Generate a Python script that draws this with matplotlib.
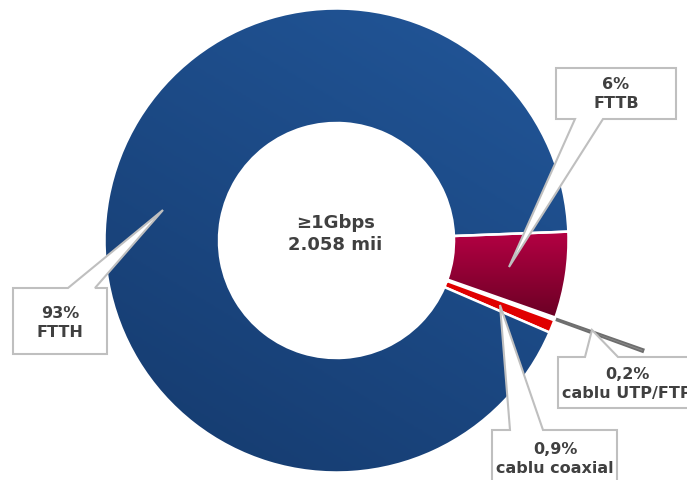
import matplotlib
matplotlib.use("Agg")
import matplotlib.pyplot as plt
import numpy as np
from matplotlib.patches import Polygon
from matplotlib.colors import LinearSegmentedColormap

# ---- data ----
categories = ["FTTB", "cablu UTP/FTP", "cablu coaxial", "FTTH"]
shares = [6.0, 0.2, 0.9, 92.9]
pct_labels = ["6%", "0,2%", "0,9%", "93%"]
center_title = "≥1Gbps"
center_value = "2.058 mii"

W, H = 687, 480
fig = plt.figure(figsize=(W / 100, H / 100), dpi=100)
ax = fig.add_axes([0, 0, 1, 1])

def Y(y):
    return H - y

cx, cy = 336.5, Y(240.5)
R_out, R_in = 232, 117.5

colors = ["#a8003c", "#8c8c8c", "#e00000", "#1c4c8a"]
explode = [0, 94, 0, 0]
wedges, _ = ax.pie(shares, colors=colors, startangle=2.2, counterclock=False,
                   center=(cx, cy), radius=R_out, explode=explode,
                   wedgeprops=dict(width=R_out - R_in, edgecolor="white", linewidth=1.8))
wedges[1].set_width(92)
wedges[1].set_edgecolor("#6e6e6e")
wedges[1].set_linewidth(1.3)
wedges[1].set_zorder(1.2)

ax.axis("off")

def gradient_fill(wedge, c_start, c_end, direction, ext=None):
    cmap = LinearSegmentedColormap.from_list("g", [c_start, c_end])
    n = 256
    yy, xx = np.mgrid[0:1:n * 1j, 0:1:n * 1j]
    dx, dy = direction
    g = xx * dx + yy * dy
    g = (g - g.min()) / (g.max() - g.min())
    if ext is None:
        bb = wedge.get_path().get_extents()
        ext = [bb.x0, bb.x1, bb.y0, bb.y1]
    im = ax.imshow(g, cmap=cmap, extent=ext, origin="lower", zorder=1.05,
                   interpolation="bilinear", aspect="auto")
    im.set_clip_path(wedge)
    wedge.set_facecolor("none")
    wedge.set_zorder(1.1)

# FTTH: lighter at top-right, darker bottom-left
gradient_fill(wedges[3], "#153a6d", "#22579a", (0.6, 1.0),
              ext=[cx - R_out, cx + R_out, cy - R_out, cy + R_out])
# FTTB: lighter top, darker bottom
gradient_fill(wedges[0], "#6a0024", "#b40043", (0.0, 1.0))

ax.set_xlim(0, W)
ax.set_ylim(0, H)

txt_color = "#404040"
box_edge = "#bfbfbf"

def callout(l, t, r, b, side, p1, p2, tip, text, tx, ty):
    if side == "bottom":
        pts = [(l, t), (r, t), (r, b), (p2, b), tip, (p1, b), (l, b)]
    else:  # top
        pts = [(l, t), (p1, t), tip, (p2, t), (r, t), (r, b), (l, b)]
    pts = [(x, Y(y)) for x, y in pts]
    poly = Polygon(pts, closed=True, facecolor="white", edgecolor=box_edge,
                   linewidth=1.5, zorder=5, joinstyle="miter")
    ax.add_patch(poly)
    ax.text(tx, Y(ty), text, ha="center", va="center", fontsize=11.5,
            fontweight="bold", color=txt_color, zorder=6, linespacing=1.4,
            family="DejaVu Sans")

callout(556, 68, 676, 119, "bottom", 575, 603, (509, 267),
        f"{pct_labels[0]}\n{categories[0]}", 616, 94)
callout(13, 288, 107, 354, "top", 68, 95, (163, 210),
        f"{pct_labels[3]}\n{categories[3]}", 60, 323)
callout(492, 430, 617, 482, "top", 510, 543, (500, 305),
        f"{pct_labels[2]}\n{categories[2]}", 555, 459)
callout(558, 357, 698, 408, "top", 585, 618, (592, 330),
        f"{pct_labels[1]}\n{categories[1]}", 627, 384)

ax.text(cx - 1, Y(234), f"{center_title}\n{center_value}", ha="center", va="center",
        fontsize=13, fontweight="bold", color=txt_color, linespacing=1.3, zorder=6)

fig.savefig("out.png", dpi=100)
